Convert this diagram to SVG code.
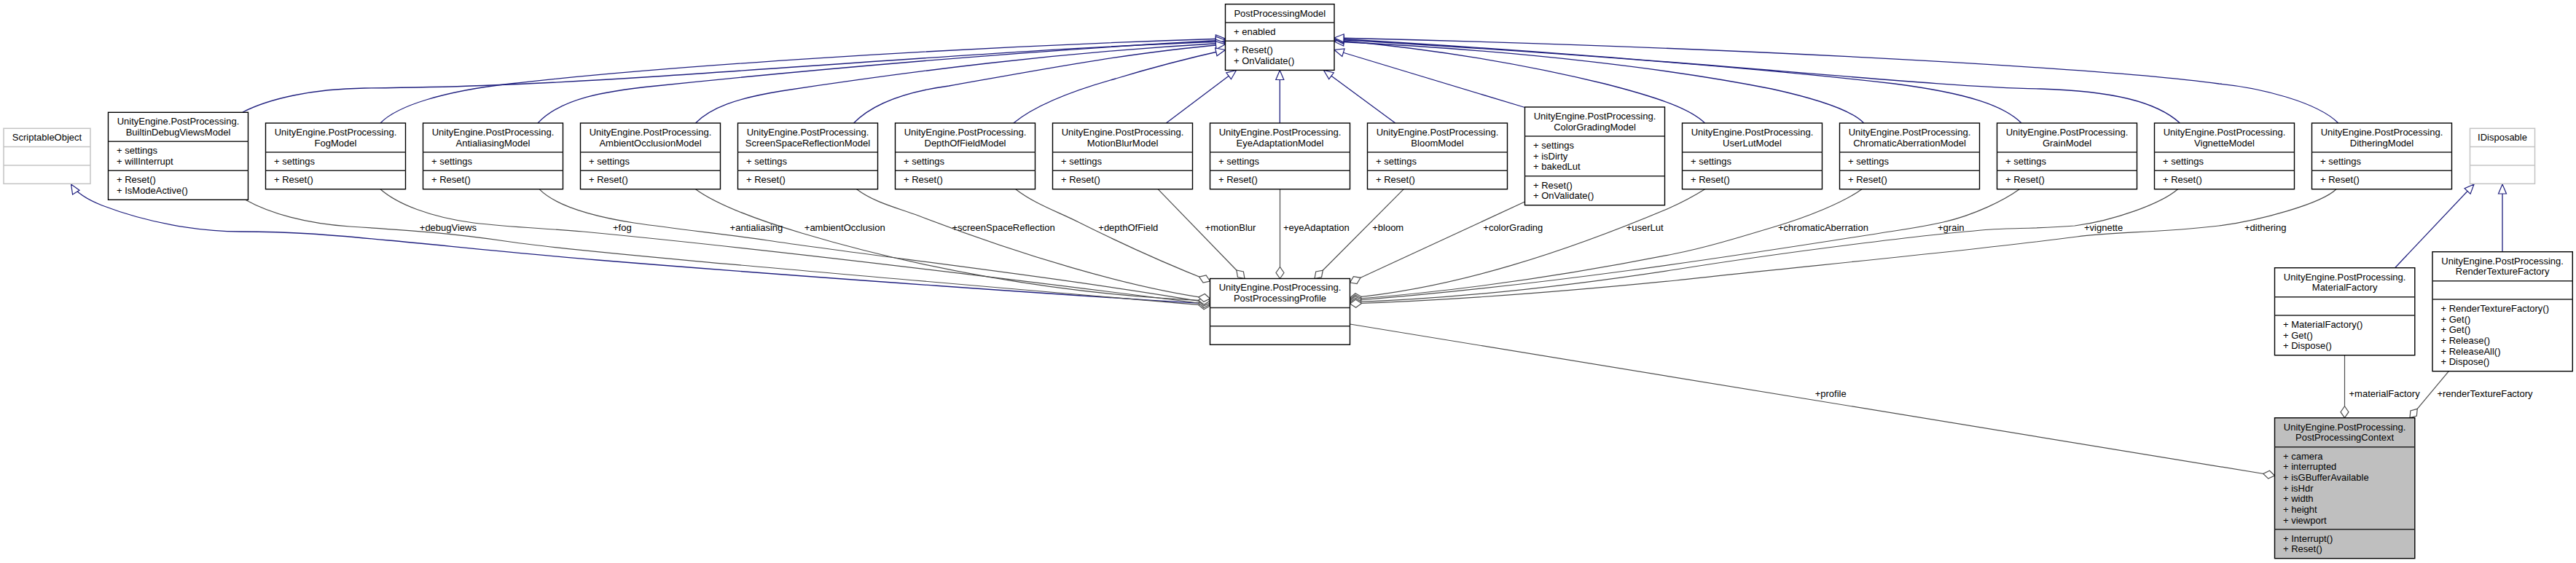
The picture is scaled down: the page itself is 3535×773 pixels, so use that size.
<svg xmlns="http://www.w3.org/2000/svg" width="3535" height="773" viewBox="0 0 3535 773">
<style>
.box{fill:#fff;stroke:#000;stroke-width:1.4}
.ctx{fill:#bfbfbf;stroke:#000;stroke-width:1.4}
.sep{stroke:#222;stroke-width:1.4}
.ext{fill:#fff;stroke:#c4c4c4;stroke-width:1.5}
.extsep{stroke:#c4c4c4;stroke-width:1.5}
.gen{fill:none;stroke:#20207f;stroke-width:1.3;marker-end:url(#tri)}
.agg{fill:none;stroke:#4d4d4d;stroke-width:1.2;marker-end:url(#dia)}
text{font-family:"Liberation Sans",Arial,sans-serif;font-size:13px;fill:#000}
.c{text-anchor:middle}
</style>
<defs>
<marker id="tri" markerUnits="userSpaceOnUse" markerWidth="20" markerHeight="20" refX="0" refY="0" orient="auto" overflow="visible">
<path d="M0,0 L-13,-5.5 L-13,5.5 Z" fill="#fff" stroke="#20207f" stroke-width="1.2"/>
</marker>
<marker id="dia" markerUnits="userSpaceOnUse" markerWidth="20" markerHeight="20" refX="0" refY="0" orient="auto" overflow="visible">
<path d="M0,0 L-8,-5.5 L-16,0 L-8,5.5 Z" fill="#fff" stroke="#4d4d4d" stroke-width="1.2"/>
</marker>
</defs>
<rect width="3535" height="773" fill="#fff"/>
<g id="connectors">
<!-- generalization to PostProcessingModel -->
<path class="gen" d="M333,154 C370,135 430,122 500,121 C600,120 700,118 900,105 C1200,85 1450,65 1681.5,57"/>
<path class="gen" d="M522,169 C545,145 610,125 700,115 C900,92 1300,65 1681.5,53"/>
<path class="gen" d="M738,169 C770,135 830,125 900,118 C1100,97 1400,70 1681.5,55"/>
<path class="gen" d="M954.5,169 C975,148 1010,135 1072,125 C1250,98 1450,72 1681.5,59"/>
<path class="gen" d="M1171.5,169 C1200,140 1250,125 1302,118 C1420,97 1550,72 1681.5,61"/>
<path class="gen" d="M1390.8,169 C1420,145 1470,125 1531,108 C1580,93 1630,80 1681.5,68.5"/>
<path class="gen" d="M1600.3,169 L1696.5,96.5"/>
<path class="gen" d="M1756.3,169 L1756.3,96.5"/>
<path class="gen" d="M1914.8,169 L1816.5,96.5"/>
<path class="gen" d="M2092.5,147.5 L1831,68.5"/>
<path class="gen" d="M2339.6,169 C2320,150 2280,135 2202,115 C2120,95 2000,70 1831,55"/>
<path class="gen" d="M2557.7,169 C2540,150 2490,135 2431,122 C2300,96 2100,70 1831,57"/>
<path class="gen" d="M2774,169 C2750,145 2700,128 2600,115 C2400,92 2100,70 1831,54"/>
<path class="gen" d="M2991.5,169 C2960,140 2900,125 2800,122 C2650,120 2300,80 1831,53"/>
<path class="gen" d="M3208.8,169 C3180,140 3100,120 3045,115 C2900,95 2400,65 1831,52"/>
<!-- generalization to ScriptableObject / IDisposable -->
<path class="gen" d="M1660.5,417 C1500,408 1100,380 820,357 C700,347 600,336 533,330 C450,322 400,318 330,318 C270,318 200,305 140,282 C115,272 103,262 97.6,253"/>
<path class="gen" d="M3286.6,367.7 L3395,253"/>
<path class="gen" d="M3434,345.7 L3434,253"/>
<!-- aggregations to PostProcessingProfile -->
<path class="agg" d="M336.7,274.3 C370,293 420,307 480,311 C560,316 620,320 700,332 C800,347 1200,380 1660.5,420"/>
<path class="agg" d="M522,259.7 C545,280 590,298 650,306 C700,312 740,313 800,318 C1000,337 1300,372 1660.5,418"/>
<path class="agg" d="M740,259.7 C760,280 800,295 870,306 C940,316 1000,322 1053,330 C1200,352 1450,380 1660.5,416"/>
<path class="agg" d="M954.5,259.7 C985,282 1040,302 1100,320 C1250,365 1450,405 1660.5,413"/>
<path class="agg" d="M1175.5,259.7 C1200,278 1230,285 1260,296 C1400,350 1550,395 1660.5,410"/>
<path class="agg" d="M1393.7,259.7 C1420,280 1450,290 1480,305 C1560,345 1620,370 1660.5,386"/>
<path class="agg" d="M1589,259.7 L1708,382.5"/>
<path class="agg" d="M1756.5,259.7 L1756.5,382.5"/>
<path class="agg" d="M1926.3,259.7 L1804,382.5"/>
<path class="agg" d="M2092.5,277 L1852.5,388"/>
<path class="agg" d="M2339.6,259.7 C2320,272 2310,277 2290,286 C2150,345 2000,395 1852.5,409"/>
<path class="agg" d="M2555,259.7 C2530,278 2480,298 2433,312 C2380,328 2340,340 2300,348 C2150,378 2000,400 1852.5,411"/>
<path class="agg" d="M2771.3,259.7 C2750,275 2710,295 2666.7,305 C2640,311 2620,314 2600,317 C2450,340 2150,390 1852.5,413"/>
<path class="agg" d="M2988.6,259.7 C2965,280 2900,303 2847,310 C2800,314 2760,313 2733,315 C2650,321 2450,346 2300,370 C2150,393 2000,410 1852.5,415"/>
<path class="agg" d="M3206,259.7 C3185,280 3100,303 3045,310 C2960,320 2900,318 2850,325 C2700,345 2450,368 2300,385 C2150,400 2000,412 1852.5,417"/>
<!-- aggregations to PostProcessingContext -->
<path class="agg" d="M1852.5,445 L3121.5,653"/>
<path class="agg" d="M3217.5,487.7 L3217.5,573.7"/>
<path class="agg" d="M3360.4,509.7 L3307,573.7"/>
<!-- labels -->
<text x="575.8" y="317.2">+debugViews</text>
<text x="841" y="317.2">+fog</text>
<text x="1001.6" y="317.2">+antialiasing</text>
<text x="1103.8" y="317.2">+ambientOcclusion</text>
<text x="1306.4" y="317.2">+screenSpaceReflection</text>
<text x="1507.3" y="317.2">+depthOfField</text>
<text x="1653.7" y="317.2">+motionBlur</text>
<text x="1761" y="317.2">+eyeAdaptation</text>
<text x="1883.2" y="317.2">+bloom</text>
<text x="2035.3" y="317.2">+colorGrading</text>
<text x="2231.7" y="317.2">+userLut</text>
<text x="2440" y="317.2">+chromaticAberration</text>
<text x="2659" y="317.2">+grain</text>
<text x="2860" y="317.2">+vignette</text>
<text x="3080" y="317.2">+dithering</text>
<text x="2490.7" y="545.2">+profile</text>
<text x="3223.5" y="545.2">+materialFactory</text>
<text x="3344.4" y="545.2">+renderTextureFactory</text>
</g>
<g id="ScriptableObject">
<rect class="ext" x="5" y="176.3" width="119" height="76"/>
<line class="extsep" x1="5" y1="201.6" x2="124" y2="201.6"/>
<line class="extsep" x1="5" y1="226.9" x2="124" y2="226.9"/>
<text class="c" x="64.5" y="193.1">ScriptableObject</text>
</g>
<g id="IDisposable">
<rect class="ext" x="3389.5" y="176.3" width="89" height="76"/>
<line class="extsep" x1="3389.5" y1="201.6" x2="3478.5" y2="201.6"/>
<line class="extsep" x1="3389.5" y1="226.9" x2="3478.5" y2="226.9"/>
<text class="c" x="3434" y="193.1">IDisposable</text>
</g>
<g id="PostProcessingModel">
<rect class="box" x="1681.5" y="5.7" width="149.5" height="90.7"/>
<line class="sep" x1="1681.5" y1="31" x2="1831" y2="31"/>
<line class="sep" x1="1681.5" y1="56.3" x2="1831" y2="56.3"/>
<text class="c" x="1756.25" y="22.5">PostProcessingModel</text>
<text x="1693" y="47.8">+ enabled</text>
<text x="1693" y="73.1">+ Reset()</text>
<text x="1693" y="87.8">+ OnValidate()</text>
</g>
<g id="BuiltinDebugViewsModel">
<rect class="box" x="148.5" y="154.3" width="192" height="120"/>
<line class="sep" x1="148.5" y1="194.3" x2="340.5" y2="194.3"/>
<line class="sep" x1="148.5" y1="234.3" x2="340.5" y2="234.3"/>
<text class="c" x="244.5" y="171.1">UnityEngine.PostProcessing.</text>
<text class="c" x="244.5" y="185.8">BuiltinDebugViewsModel</text>
<text x="160" y="211.1">+ settings</text>
<text x="160" y="225.8">+ willInterrupt</text>
<text x="160" y="251.1">+ Reset()</text>
<text x="160" y="265.8">+ IsModeActive()</text>
</g>
<g id="FogModel">
<rect class="box" x="364.5" y="169" width="192" height="90.7"/>
<line class="sep" x1="364.5" y1="209" x2="556.5" y2="209"/>
<line class="sep" x1="364.5" y1="234.3" x2="556.5" y2="234.3"/>
<text class="c" x="460.5" y="185.8">UnityEngine.PostProcessing.</text>
<text class="c" x="460.5" y="200.5">FogModel</text>
<text x="376" y="225.8">+ settings</text>
<text x="376" y="251.1">+ Reset()</text>
</g>
<g id="AntialiasingModel">
<rect class="box" x="580.5" y="169" width="192" height="90.7"/>
<line class="sep" x1="580.5" y1="209" x2="772.5" y2="209"/>
<line class="sep" x1="580.5" y1="234.3" x2="772.5" y2="234.3"/>
<text class="c" x="676.5" y="185.8">UnityEngine.PostProcessing.</text>
<text class="c" x="676.5" y="200.5">AntialiasingModel</text>
<text x="592" y="225.8">+ settings</text>
<text x="592" y="251.1">+ Reset()</text>
</g>
<g id="AmbientOcclusionModel">
<rect class="box" x="796.5" y="169" width="192" height="90.7"/>
<line class="sep" x1="796.5" y1="209" x2="988.5" y2="209"/>
<line class="sep" x1="796.5" y1="234.3" x2="988.5" y2="234.3"/>
<text class="c" x="892.5" y="185.8">UnityEngine.PostProcessing.</text>
<text class="c" x="892.5" y="200.5">AmbientOcclusionModel</text>
<text x="808" y="225.8">+ settings</text>
<text x="808" y="251.1">+ Reset()</text>
</g>
<g id="ScreenSpaceReflectionModel">
<rect class="box" x="1012.5" y="169" width="192" height="90.7"/>
<line class="sep" x1="1012.5" y1="209" x2="1204.5" y2="209"/>
<line class="sep" x1="1012.5" y1="234.3" x2="1204.5" y2="234.3"/>
<text class="c" x="1108.5" y="185.8">UnityEngine.PostProcessing.</text>
<text class="c" x="1108.5" y="200.5">ScreenSpaceReflectionModel</text>
<text x="1024" y="225.8">+ settings</text>
<text x="1024" y="251.1">+ Reset()</text>
</g>
<g id="DepthOfFieldModel">
<rect class="box" x="1228.5" y="169" width="192" height="90.7"/>
<line class="sep" x1="1228.5" y1="209" x2="1420.5" y2="209"/>
<line class="sep" x1="1228.5" y1="234.3" x2="1420.5" y2="234.3"/>
<text class="c" x="1324.5" y="185.8">UnityEngine.PostProcessing.</text>
<text class="c" x="1324.5" y="200.5">DepthOfFieldModel</text>
<text x="1240" y="225.8">+ settings</text>
<text x="1240" y="251.1">+ Reset()</text>
</g>
<g id="MotionBlurModel">
<rect class="box" x="1444.5" y="169" width="192" height="90.7"/>
<line class="sep" x1="1444.5" y1="209" x2="1636.5" y2="209"/>
<line class="sep" x1="1444.5" y1="234.3" x2="1636.5" y2="234.3"/>
<text class="c" x="1540.5" y="185.8">UnityEngine.PostProcessing.</text>
<text class="c" x="1540.5" y="200.5">MotionBlurModel</text>
<text x="1456" y="225.8">+ settings</text>
<text x="1456" y="251.1">+ Reset()</text>
</g>
<g id="EyeAdaptationModel">
<rect class="box" x="1660.5" y="169" width="192" height="90.7"/>
<line class="sep" x1="1660.5" y1="209" x2="1852.5" y2="209"/>
<line class="sep" x1="1660.5" y1="234.3" x2="1852.5" y2="234.3"/>
<text class="c" x="1756.5" y="185.8">UnityEngine.PostProcessing.</text>
<text class="c" x="1756.5" y="200.5">EyeAdaptationModel</text>
<text x="1672" y="225.8">+ settings</text>
<text x="1672" y="251.1">+ Reset()</text>
</g>
<g id="BloomModel">
<rect class="box" x="1876.5" y="169" width="192" height="90.7"/>
<line class="sep" x1="1876.5" y1="209" x2="2068.5" y2="209"/>
<line class="sep" x1="1876.5" y1="234.3" x2="2068.5" y2="234.3"/>
<text class="c" x="1972.5" y="185.8">UnityEngine.PostProcessing.</text>
<text class="c" x="1972.5" y="200.5">BloomModel</text>
<text x="1888" y="225.8">+ settings</text>
<text x="1888" y="251.1">+ Reset()</text>
</g>
<g id="ColorGradingModel">
<rect class="box" x="2092.5" y="147" width="192" height="134.7"/>
<line class="sep" x1="2092.5" y1="187" x2="2284.5" y2="187"/>
<line class="sep" x1="2092.5" y1="241.7" x2="2284.5" y2="241.7"/>
<text class="c" x="2188.5" y="163.8">UnityEngine.PostProcessing.</text>
<text class="c" x="2188.5" y="178.5">ColorGradingModel</text>
<text x="2104" y="203.8">+ settings</text>
<text x="2104" y="218.5">+ isDirty</text>
<text x="2104" y="233.1">+ bakedLut</text>
<text x="2104" y="258.5">+ Reset()</text>
<text x="2104" y="273.1">+ OnValidate()</text>
</g>
<g id="UserLutModel">
<rect class="box" x="2308.5" y="169" width="192" height="90.7"/>
<line class="sep" x1="2308.5" y1="209" x2="2500.5" y2="209"/>
<line class="sep" x1="2308.5" y1="234.3" x2="2500.5" y2="234.3"/>
<text class="c" x="2404.5" y="185.8">UnityEngine.PostProcessing.</text>
<text class="c" x="2404.5" y="200.5">UserLutModel</text>
<text x="2320" y="225.8">+ settings</text>
<text x="2320" y="251.1">+ Reset()</text>
</g>
<g id="ChromaticAberrationModel">
<rect class="box" x="2524.5" y="169" width="192" height="90.7"/>
<line class="sep" x1="2524.5" y1="209" x2="2716.5" y2="209"/>
<line class="sep" x1="2524.5" y1="234.3" x2="2716.5" y2="234.3"/>
<text class="c" x="2620.5" y="185.8">UnityEngine.PostProcessing.</text>
<text class="c" x="2620.5" y="200.5">ChromaticAberrationModel</text>
<text x="2536" y="225.8">+ settings</text>
<text x="2536" y="251.1">+ Reset()</text>
</g>
<g id="GrainModel">
<rect class="box" x="2740.5" y="169" width="192" height="90.7"/>
<line class="sep" x1="2740.5" y1="209" x2="2932.5" y2="209"/>
<line class="sep" x1="2740.5" y1="234.3" x2="2932.5" y2="234.3"/>
<text class="c" x="2836.5" y="185.8">UnityEngine.PostProcessing.</text>
<text class="c" x="2836.5" y="200.5">GrainModel</text>
<text x="2752" y="225.8">+ settings</text>
<text x="2752" y="251.1">+ Reset()</text>
</g>
<g id="VignetteModel">
<rect class="box" x="2956.5" y="169" width="192" height="90.7"/>
<line class="sep" x1="2956.5" y1="209" x2="3148.5" y2="209"/>
<line class="sep" x1="2956.5" y1="234.3" x2="3148.5" y2="234.3"/>
<text class="c" x="3052.5" y="185.8">UnityEngine.PostProcessing.</text>
<text class="c" x="3052.5" y="200.5">VignetteModel</text>
<text x="2968" y="225.8">+ settings</text>
<text x="2968" y="251.1">+ Reset()</text>
</g>
<g id="DitheringModel">
<rect class="box" x="3172.5" y="169" width="192" height="90.7"/>
<line class="sep" x1="3172.5" y1="209" x2="3364.5" y2="209"/>
<line class="sep" x1="3172.5" y1="234.3" x2="3364.5" y2="234.3"/>
<text class="c" x="3268.5" y="185.8">UnityEngine.PostProcessing.</text>
<text class="c" x="3268.5" y="200.5">DitheringModel</text>
<text x="3184" y="225.8">+ settings</text>
<text x="3184" y="251.1">+ Reset()</text>
</g>
<g id="PostProcessingProfile">
<rect class="box" x="1660.5" y="382.5" width="192" height="90.7"/>
<line class="sep" x1="1660.5" y1="422.5" x2="1852.5" y2="422.5"/>
<line class="sep" x1="1660.5" y1="447.8" x2="1852.5" y2="447.8"/>
<text class="c" x="1756.5" y="399.3">UnityEngine.PostProcessing.</text>
<text class="c" x="1756.5" y="414">PostProcessingProfile</text>
</g>
<g id="MaterialFactory">
<rect class="box" x="3121.5" y="367.7" width="192.3" height="120"/>
<line class="sep" x1="3121.5" y1="407.7" x2="3313.8" y2="407.7"/>
<line class="sep" x1="3121.5" y1="433" x2="3313.8" y2="433"/>
<text class="c" x="3217.6" y="384.5">UnityEngine.PostProcessing.</text>
<text class="c" x="3217.6" y="399.2">MaterialFactory</text>
<text x="3133" y="449.8">+ MaterialFactory()</text>
<text x="3133" y="464.5">+ Get()</text>
<text x="3133" y="479.1">+ Dispose()</text>
</g>
<g id="RenderTextureFactory">
<rect class="box" x="3338" y="345.7" width="192.3" height="164"/>
<line class="sep" x1="3338" y1="385.7" x2="3530.3" y2="385.7"/>
<line class="sep" x1="3338" y1="411" x2="3530.3" y2="411"/>
<text class="c" x="3434.1" y="362.5">UnityEngine.PostProcessing.</text>
<text class="c" x="3434.1" y="377.2">RenderTextureFactory</text>
<text x="3349.5" y="427.8">+ RenderTextureFactory()</text>
<text x="3349.5" y="442.5">+ Get()</text>
<text x="3349.5" y="457.1">+ Get()</text>
<text x="3349.5" y="471.8">+ Release()</text>
<text x="3349.5" y="486.5">+ ReleaseAll()</text>
<text x="3349.5" y="501.1">+ Dispose()</text>
</g>
<g id="PostProcessingContext">
<rect class="ctx" x="3121.5" y="573.7" width="192.3" height="193"/>
<line class="sep" x1="3121.5" y1="613.7" x2="3313.8" y2="613.7"/>
<line class="sep" x1="3121.5" y1="726.7" x2="3313.8" y2="726.7"/>
<text class="c" x="3217.6" y="590.5">UnityEngine.PostProcessing.</text>
<text class="c" x="3217.6" y="605.2">PostProcessingContext</text>
<text x="3133" y="630.5">+ camera</text>
<text x="3133" y="645.2">+ interrupted</text>
<text x="3133" y="659.8">+ isGBufferAvailable</text>
<text x="3133" y="674.5">+ isHdr</text>
<text x="3133" y="689.2">+ width</text>
<text x="3133" y="703.8">+ height</text>
<text x="3133" y="718.5">+ viewport</text>
<text x="3133" y="743.5">+ Interrupt()</text>
<text x="3133" y="758.2">+ Reset()</text>
</g>
</svg>
